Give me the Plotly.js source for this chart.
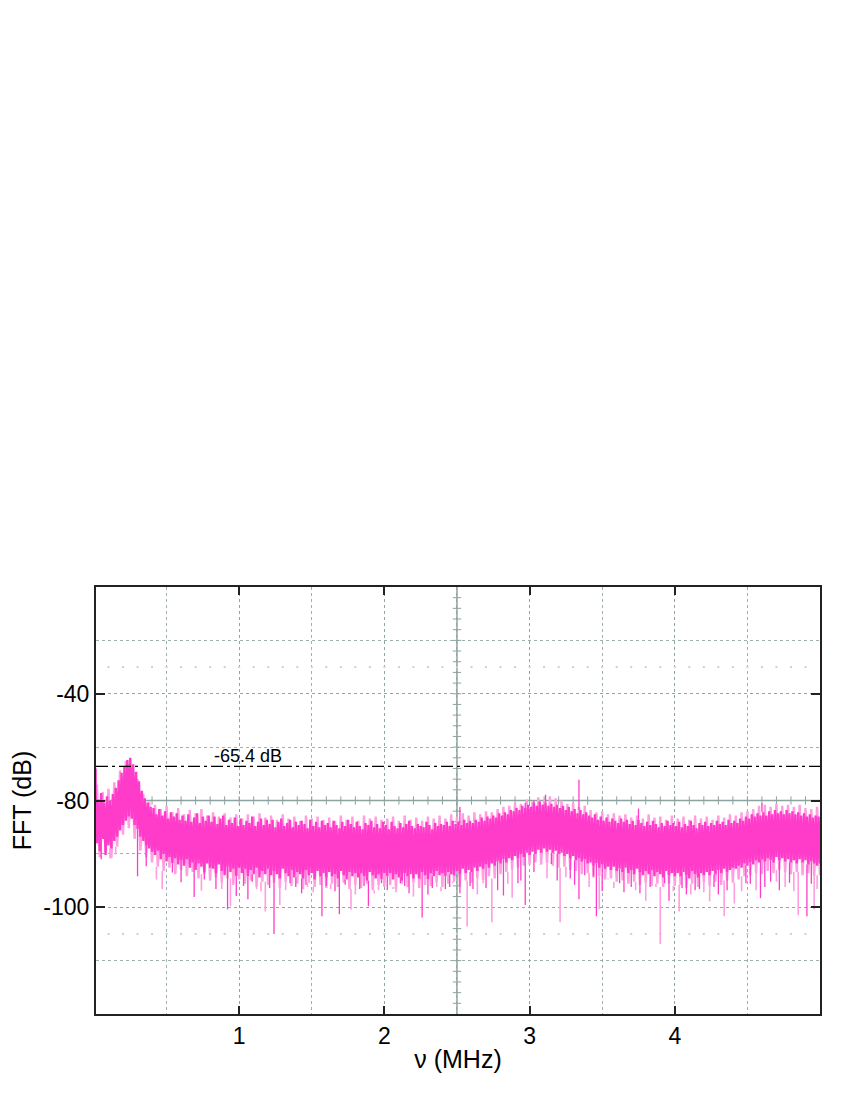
<!DOCTYPE html>
<html>
<head>
<meta charset="utf-8">
<script src="https://cdn.plot.ly/plotly-3.0.1.min.js"></script>
<style>html,body{margin:0;padding:0;background:#fff;}#chart{width:850px;height:1100px;}</style>
</head>
<body>
<div id="chart"></div>
<script>
// ---------------- DATA ----------------
// Dense magenta spectrum: alternate local maxima / minima of the noise.
// maxima sampled at 0.01, 0.03, ... MHz ; minima at 0.02, 0.04, ... MHz
const magStart = 0.01;
const magStep = 0.02;
const magHi = [
-77.5,-79.8,-78.6,-80.4,-79.2,-80.0,-78.8,-77.6,-76.2,-74.8,
-73.6,-72.4,-72.0,-73.2,-74.6,-76.4,-78.2,-79.6,-80.4,-81.2,
-81.4,-82.6,-81.6,-82.8,-82.0,-83.4,-82.2,-83.0,-82.4,-83.6,
-82.8,-83.8,-82.6,-84.0,-83.2,-82.4,-84.2,-83.0,-83.8,-82.8,
-84.0,-83.0,-84.4,-83.4,-82.8,-84.6,-83.6,-84.2,-83.2,-84.8,
-83.4,-84.6,-83.8,-84.2,-83.0,-84.8,-84.0,-83.4,-84.6,-83.6,
-84.4,-83.6,-85.0,-84.0,-83.4,-84.8,-84.2,-83.6,-85.0,-84.0,
-84.6,-83.8,-84.4,-85.2,-83.6,-84.8,-84.0,-85.0,-83.8,-84.6,
-84.2,-85.0,-83.8,-84.6,-85.2,-84.0,-84.8,-83.6,-84.4,-85.0,
-84.0,-84.8,-85.4,-84.2,-84.6,-83.8,-85.0,-84.4,-85.2,-84.0,
-84.6,-85.4,-84.0,-84.8,-85.2,-84.2,-85.0,-84.4,-83.8,-84.8,
-85.2,-84.4,-84.8,-85.0,-84.0,-84.6,-85.4,-84.2,-84.8,-84.4,
-84.6,-84.0,-84.8,-83.8,-84.4,-84.0,-84.6,-83.6,-84.2,-83.8,
-84.2,-83.6,-84.0,-83.2,-83.8,-83.0,-83.4,-82.8,-83.2,-82.4,
-82.8,-82.2,-82.6,-81.8,-82.0,-81.4,-81.8,-81.0,-81.4,-80.8,
-81.2,-80.4,-81.0,-80.2,-80.8,-80.4,-81.0,-80.6,-81.2,-80.8,
-81.4,-81.0,-81.8,-81.2,-82.0,-81.6,-82.4,-81.8,-82.6,-82.2,
-82.8,-83.2,-82.6,-83.6,-83.0,-83.8,-83.2,-84.0,-83.4,-83.8,
-84.2,-83.4,-84.0,-83.6,-84.4,-83.8,-84.6,-83.6,-84.2,-84.8,
-84.0,-84.6,-83.8,-84.4,-85.0,-84.2,-84.8,-83.8,-84.6,-84.2,
-84.8,-84.0,-85.0,-84.4,-84.8,-83.8,-84.6,-85.2,-84.2,-84.6,
-84.0,-84.8,-84.2,-84.6,-83.8,-84.4,-84.0,-84.6,-83.6,-84.2,
-83.8,-84.2,-83.4,-83.8,-83.0,-83.4,-82.6,-83.0,-82.4,-82.8,
-82.2,-82.8,-82.0,-82.6,-81.8,-82.4,-82.0,-82.6,-81.8,-82.4,
-82.0,-82.6,-82.2,-82.8,-82.4,-83.0,-82.6,-83.2,-82.8,-83.0];
const magLo = [
-88.0,-89.5,-87.2,-90.2,-88.4,-89.0,-87.6,-86.8,-85.6,-84.6,
-83.8,-83.0,-83.4,-84.6,-85.4,-86.8,-87.6,-88.4,-89.0,-89.6,
-90.2,-89.4,-91.0,-90.0,-91.4,-90.6,-91.8,-90.8,-92.0,-91.2,
-92.2,-91.0,-92.6,-91.6,-93.0,-91.8,-92.4,-93.4,-91.8,-92.6,
-92.8,-93.6,-92.0,-93.2,-94.0,-92.4,-93.4,-92.8,-94.2,-92.6,
-93.6,-92.8,-94.2,-93.0,-93.8,-92.6,-94.4,-93.2,-93.8,-92.8,
-94.0,-93.2,-93.8,-94.6,-92.8,-93.6,-94.2,-93.0,-94.4,-93.4,
-93.8,-94.6,-93.0,-94.0,-93.6,-94.8,-93.2,-94.2,-93.6,-94.4,
-93.4,-94.2,-93.8,-94.6,-93.2,-94.0,-94.8,-93.4,-94.2,-93.6,
-94.4,-93.6,-94.2,-95.0,-93.4,-94.0,-94.6,-93.8,-94.8,-93.6,
-94.2,-93.6,-94.8,-93.8,-94.4,-95.0,-93.6,-94.2,-93.8,-94.6,
-93.8,-94.6,-93.4,-94.0,-94.8,-93.6,-94.2,-93.2,-94.0,-93.6,
-94.2,-93.4,-93.8,-94.0,-93.2,-93.8,-92.8,-93.6,-93.0,-93.4,
-92.6,-93.2,-92.4,-92.8,-92.0,-92.6,-91.8,-92.2,-91.4,-91.8,
-91.0,-91.6,-90.8,-91.2,-90.4,-90.8,-90.0,-90.6,-89.8,-90.2,
-89.6,-90.0,-89.2,-89.8,-89.0,-89.6,-89.2,-89.8,-89.4,-90.0,
-89.8,-90.4,-90.0,-90.8,-90.4,-91.2,-90.8,-91.4,-91.0,-91.8,
-91.6,-92.2,-91.8,-92.6,-92.0,-92.8,-92.4,-93.0,-92.4,-93.2,
-92.8,-93.4,-92.6,-93.6,-93.0,-93.8,-92.8,-93.4,-94.0,-93.2,
-93.8,-93.0,-94.2,-93.4,-93.8,-94.4,-93.2,-94.0,-93.6,-94.2,
-93.6,-94.2,-93.4,-94.0,-94.6,-93.2,-93.8,-94.4,-93.6,-94.0,
-93.4,-94.0,-93.2,-93.8,-93.0,-93.6,-92.8,-93.4,-93.0,-92.6,
-92.8,-92.2,-92.6,-91.8,-92.2,-91.6,-92.0,-91.2,-91.6,-91.0,
-91.4,-90.8,-91.2,-91.6,-90.6,-91.2,-90.8,-91.4,-91.0,-91.6,
-91.2,-91.8,-91.0,-91.6,-91.2,-92.0,-91.4,-91.8,-92.2,-91.8];

// Light-pink second spectrum: maxima at 0.02, 0.06, ... ; minima at 0.04, 0.08, ...
const pinkStart = 0.02;
const pinkStep = 0.04;
const pinkHi = [
-77.0,-78.5,-77.8,-76.6,-74.4,-72.6,-73.8,-76.0,-78.8,-80.2,
-80.8,-81.6,-81.0,-82.2,-81.4,-82.6,-81.8,-82.4,-81.6,-82.8,
-82.2,-83.0,-82.4,-83.2,-82.6,-83.4,-82.6,-83.0,-82.4,-83.2,
-82.8,-83.6,-82.6,-83.4,-83.0,-83.8,-82.8,-83.4,-83.0,-83.6,
-83.2,-83.8,-82.8,-83.6,-83.0,-83.8,-82.8,-83.4,-83.0,-83.6,
-83.4,-83.0,-83.8,-82.8,-83.6,-83.2,-83.8,-83.0,-83.4,-82.8,
-83.4,-82.6,-83.0,-82.4,-82.8,-82.2,-82.6,-82.0,-82.2,-81.6,
-81.2,-81.0,-80.4,-80.6,-79.8,-80.2,-79.4,-79.8,-79.2,-79.6,
-80.0,-80.6,-80.4,-81.2,-81.0,-81.8,-82.2,-82.0,-82.6,-82.4,
-82.8,-82.6,-83.2,-82.8,-83.4,-82.6,-83.2,-83.0,-83.6,-82.8,
-83.4,-83.0,-83.6,-82.8,-83.4,-83.0,-83.6,-82.8,-83.2,-82.6,
-82.8,-82.2,-82.0,-81.6,-81.0,-80.8,-81.2,-80.6,-81.0,-80.8,
-81.2,-80.8,-81.4,-81.6,-81.2];
const pinkLo = [
-90.6,-89.6,-90.8,-88.6,-86.4,-85.2,-87.2,-89.4,-90.6,-91.6,
-92.4,-93.2,-92.6,-93.8,-93.0,-94.2,-93.4,-94.6,-93.8,-95.0,
-94.4,-95.4,-94.6,-95.8,-94.8,-95.6,-95.0,-96.2,-95.2,-95.8,
-95.4,-96.4,-95.2,-96.0,-95.6,-96.6,-95.4,-96.2,-95.8,-96.4,
-95.6,-96.2,-95.4,-96.6,-95.8,-96.4,-95.6,-96.8,-95.8,-96.2,
-95.8,-96.6,-95.6,-96.2,-95.4,-96.4,-95.8,-96.0,-95.4,-96.2,
-95.6,-95.2,-95.8,-95.0,-95.4,-94.6,-95.0,-94.2,-94.6,-93.8,
-93.4,-93.0,-92.6,-92.2,-92.0,-91.6,-92.0,-91.8,-92.2,-92.6,
-92.4,-93.0,-93.2,-93.8,-93.6,-94.4,-94.2,-94.8,-94.6,-95.2,
-95.0,-95.6,-95.2,-95.8,-95.4,-96.0,-95.6,-96.2,-95.6,-96.0,
-95.8,-96.4,-95.6,-96.2,-95.4,-96.0,-95.2,-95.8,-95.0,-95.4,
-94.8,-94.2,-94.0,-93.6,-93.8,-93.2,-93.6,-93.0,-93.4,-93.8,
-93.4,-94.0,-93.6,-94.2,-94.0];

// downward spikes (tip values)
const magentaDownFreq = [0.05,0.30,0.54,0.69,0.76,0.92,0.98,1.06,1.24,1.35,1.43,1.57,1.69,1.83,1.89,1.98,
2.11,2.17,2.26,2.30,2.42,2.61,2.82,2.92,2.97,3.15,3.28,3.34,3.38,3.44,3.46,3.62,3.70,3.93,3.96,
4.08,4.17,4.30,4.49,4.59,4.62,4.91,
0.36,0.60,0.84,1.03,1.09,1.21,1.39,1.46,1.60,1.66,1.73,1.86,2.02,2.14,2.33,2.45,2.52,2.59,2.70,2.78,2.94,
3.03,3.19,3.31,3.50,3.65,3.76,3.83,4.05,4.14,4.27,4.36,4.52,4.66,4.72,4.79,4.94];
const magentaDownDb = [-91.0,-94.2,-93.5,-98.1,-94.8,-100.4,-97.9,-98.5,-105.0,-95.5,-97.4,-101.7,-101.3,-96.6,-99.8,-95.5,
-95.5,-97.4,-101.9,-97.6,-96.6,-96.6,-97.8,-95.5,-99.6,-91.9,-94.6,-98.5,-94.0,-94.2,-101.7,-95.5,-96.2,-95.5,-98.8,
-97.6,-96.6,-97.6,-95.5,-98.3,-96.2,-101.7,
-92.3,-95.3,-96.6,-96.0,-95.2,-96.4,-96.2,-95.8,-96.0,-97.0,-95.8,-96.0,-96.8,-96.0,-96.4,-96.2,-97.4,-96.0,-96.4,-96.8,-95.0,
-93.4,-95.0,-95.8,-97.0,-97.2,-97.4,-96.2,-96.4,-96.8,-96.2,-96.8,-95.6,-95.2,-96.8,-95.4,-95.6];
const pinkDownFreq = [0.11,0.15,0.43,0.47,0.80,0.88,0.94,1.12,1.18,1.28,1.47,1.63,1.77,1.93,2.06,2.36,2.47,2.57,2.68,2.74,2.88,
3.07,3.21,3.48,3.54,3.80,3.87,3.90,4.03,4.24,4.34,4.41,4.70,4.76,4.85,4.96,
0.74,1.15,1.32,1.51,1.80,1.96,2.08,2.20,2.39,2.64,2.85,3.12,3.25,3.41,3.58,3.73,3.99,4.11,4.20,4.46,4.56,4.82,4.98];
const pinkDownDb = [-89.0,-90.1,-94.8,-96.6,-94.6,-96.6,-99.8,-96.6,-100.8,-99.6,-96.2,-96.6,-100.4,-97.4,-96.2,-96.2,-95.5,-103.6,-95.5,-102.8,-98.2,
-91.9,-102.8,-100.4,-94.8,-98.8,-96.2,-106.9,-100.8,-98.9,-101.7,-99.3,-95.2,-96.2,-101.5,-100.4,
-96.9,-97.0,-96.8,-97.2,-97.6,-96.8,-97.2,-98.0,-97.0,-97.6,-95.6,-94.6,-94.4,-96.2,-96.4,-96.8,-97.0,-97.6,-97.2,-97.0,-96.8,-97.0,-96.6];

// upward spikes (tip values)
const magentaUpFreq = [0.015,0.06,2.52,2.97,3.03,3.11,3.34,3.75,4.60];
const magentaUpDb = [-74.0,-78.5,-81.2,-80.4,-80.0,-78.9,-76.1,-81.5,-80.5];

// reference level line
const refLevelDb = -73.6;
const refLevelLabel = "-65.4 dB";
const refLabelFreq = 0.81;

// axis ticks
const xTickVals = [1, 2, 3, 4];
const xTickText = ["1", "2", "3", "4"];
const yTickVals = [-60, -80, -100];
const yTickText = ["-40", "-80", "-100"];
const xRange = [0.014, 5.0];
const yRange = [-120, -40];
const xCenter = 2.5;
const yCenter = -80;

// ---------------- BUILD ----------------
const MAGENTA = '#ff3cca';
const PINK = '#ff9ee0';
const GRAT = '#8fa3a0';
const GRID = 'rgba(140,165,160,0.85)';

function zigzag(start, step, hi, lo) {
  const xs = [], ys = [];
  for (let i = 0; i < hi.length; i++) {
    xs.push(start + step * i); ys.push(hi[i]);
    if (i < lo.length) { xs.push(start + step * i + step / 2); ys.push(lo[i]); }
  }
  return {xs, ys};
}
function nearestVal(start, step, vals, f) {
  let i = Math.round((f - start) / step);
  i = Math.max(0, Math.min(vals.length - 1, i));
  return vals[i];
}
function spikes(fx, fy, start, step, baseVals) {
  const xs = [], ys = [];
  for (let i = 0; i < fx.length; i++) {
    xs.push(fx[i], fx[i], null); ys.push(nearestVal(start, step, baseVals, fx[i]), fy[i], null);
  }
  return {xs, ys};
}

// graticule decorations
const gx = [], gy = [];
for (let k = 1; k < 50; k++) { gx.push(k / 10); gy.push(yCenter); }
const vx = [], vy = [];
for (let v = yRange[0] + 2; v < yRange[1]; v += 2) { vx.push(xCenter); vy.push(v); }
const dx = [], dy = [];
for (let k = 1; k < 50; k++) { dx.push(k / 10, k / 10); dy.push(-55, -105); }

const traces = [];
traces.push({x: dx, y: dy, mode: 'markers', type: 'scatter', hoverinfo: 'skip',
  marker: {symbol: 'square', size: 2, color: '#c8d2d0'}});
traces.push({x: gx, y: gy, mode: 'markers', type: 'scatter', hoverinfo: 'skip',
  marker: {symbol: 'line-ns', size: 6, line: {color: GRAT, width: 1}}});
traces.push({x: vx, y: vy, mode: 'markers', type: 'scatter', hoverinfo: 'skip',
  marker: {symbol: 'line-ew', size: 6, line: {color: GRAT, width: 1}}});

// pink spectrum (underneath)
const pz = zigzag(pinkStart, pinkStep, pinkHi, pinkLo);
traces.push({x: pz.xs, y: pz.ys, mode: 'lines', type: 'scatter', line: {width: 2.4, color: PINK}, hoverinfo: 'skip'});
const pd = spikes(pinkDownFreq, pinkDownDb, pinkStart + pinkStep / 2, pinkStep, pinkLo);
traces.push({x: pd.xs, y: pd.ys, mode: 'lines', type: 'scatter', line: {width: 1.6, color: PINK}, hoverinfo: 'skip'});

// magenta spectrum (on top)
const mz = zigzag(magStart, magStep, magHi, magLo);
traces.push({x: mz.xs, y: mz.ys, mode: 'lines', type: 'scatter', line: {width: 2.4, color: MAGENTA}, hoverinfo: 'skip'});
const md = spikes(magentaDownFreq, magentaDownDb, magStart + magStep / 2, magStep, magLo);
const mu = spikes(magentaUpFreq, magentaUpDb, magStart, magStep, magHi);
traces.push({x: md.xs.concat(mu.xs), y: md.ys.concat(mu.ys), mode: 'lines', type: 'scatter', line: {width: 1.3, color: MAGENTA}, hoverinfo: 'skip'});

const FONT = 'Liberation Sans, Arial, Helvetica, sans-serif';
const layout = {
  width: 850, height: 1100,
  margin: {l: 96, r: 30, t: 587, b: 86},
  paper_bgcolor: '#ffffff', plot_bgcolor: '#ffffff',
  showlegend: false,
  font: {family: FONT, size: 24, color: '#000'},
  xaxis: {
    range: xRange, tickmode: 'array', tickvals: xTickVals, ticktext: xTickText,
    ticks: 'inside', ticklen: 8, tickwidth: 2, tickcolor: '#222',
    showline: true, linecolor: '#222', linewidth: 2, mirror: 'ticks',
    showgrid: true, gridcolor: GRID, griddash: 'dot', gridwidth: 1,
    minor: {dtick: 0.5, tick0: 0, showgrid: true, gridcolor: GRID, griddash: 'dot', gridwidth: 1, ticks: ''},
    zeroline: false,
    tickfont: {family: FONT, size: 23},
    title: {text: 'ν (MHz)', font: {family: FONT, size: 25}, standoff: 3}
  },
  yaxis: {
    range: yRange, tickmode: 'array', tickvals: yTickVals, ticktext: yTickText,
    ticks: 'inside', ticklen: 9, tickwidth: 2, tickcolor: '#222',
    showline: true, linecolor: '#222', linewidth: 2, mirror: 'ticks',
    showgrid: true, gridcolor: GRID, griddash: 'dot', gridwidth: 1,
    minor: {dtick: 10, tick0: 0, showgrid: true, gridcolor: GRID, griddash: 'dot', gridwidth: 1, ticks: ''},
    zeroline: false,
    tickfont: {family: FONT, size: 23},
    title: {text: 'FFT (dB)', font: {family: FONT, size: 25}, standoff: 5}
  },
  shapes: [
    {type: 'line', xref: 'x', yref: 'paper', x0: xCenter, x1: xCenter, y0: 0, y1: 1, layer: 'below', line: {color: GRAT, width: 1.5}},
    {type: 'line', xref: 'paper', yref: 'y', x0: 0, x1: 1, y0: yCenter, y1: yCenter, layer: 'below', line: {color: GRAT, width: 1.5}},
    {type: 'line', xref: 'paper', yref: 'y', x0: 0, x1: 1, y0: refLevelDb, y1: refLevelDb, layer: 'above', line: {color: '#000', width: 1.4, dash: '12px,4px,3px,4px'}}
  ],
  annotations: [
    {x: refLabelFreq, y: refLevelDb, xref: 'x', yref: 'y', text: refLevelLabel, showarrow: false,
     xanchor: 'left', yanchor: 'bottom', yshift: -2, font: {family: FONT, size: 18, color: '#000'}}
  ]
};

Plotly.newPlot('chart', traces, layout, {staticPlot: true, displayModeBar: false});
</script>
</body>
</html>
